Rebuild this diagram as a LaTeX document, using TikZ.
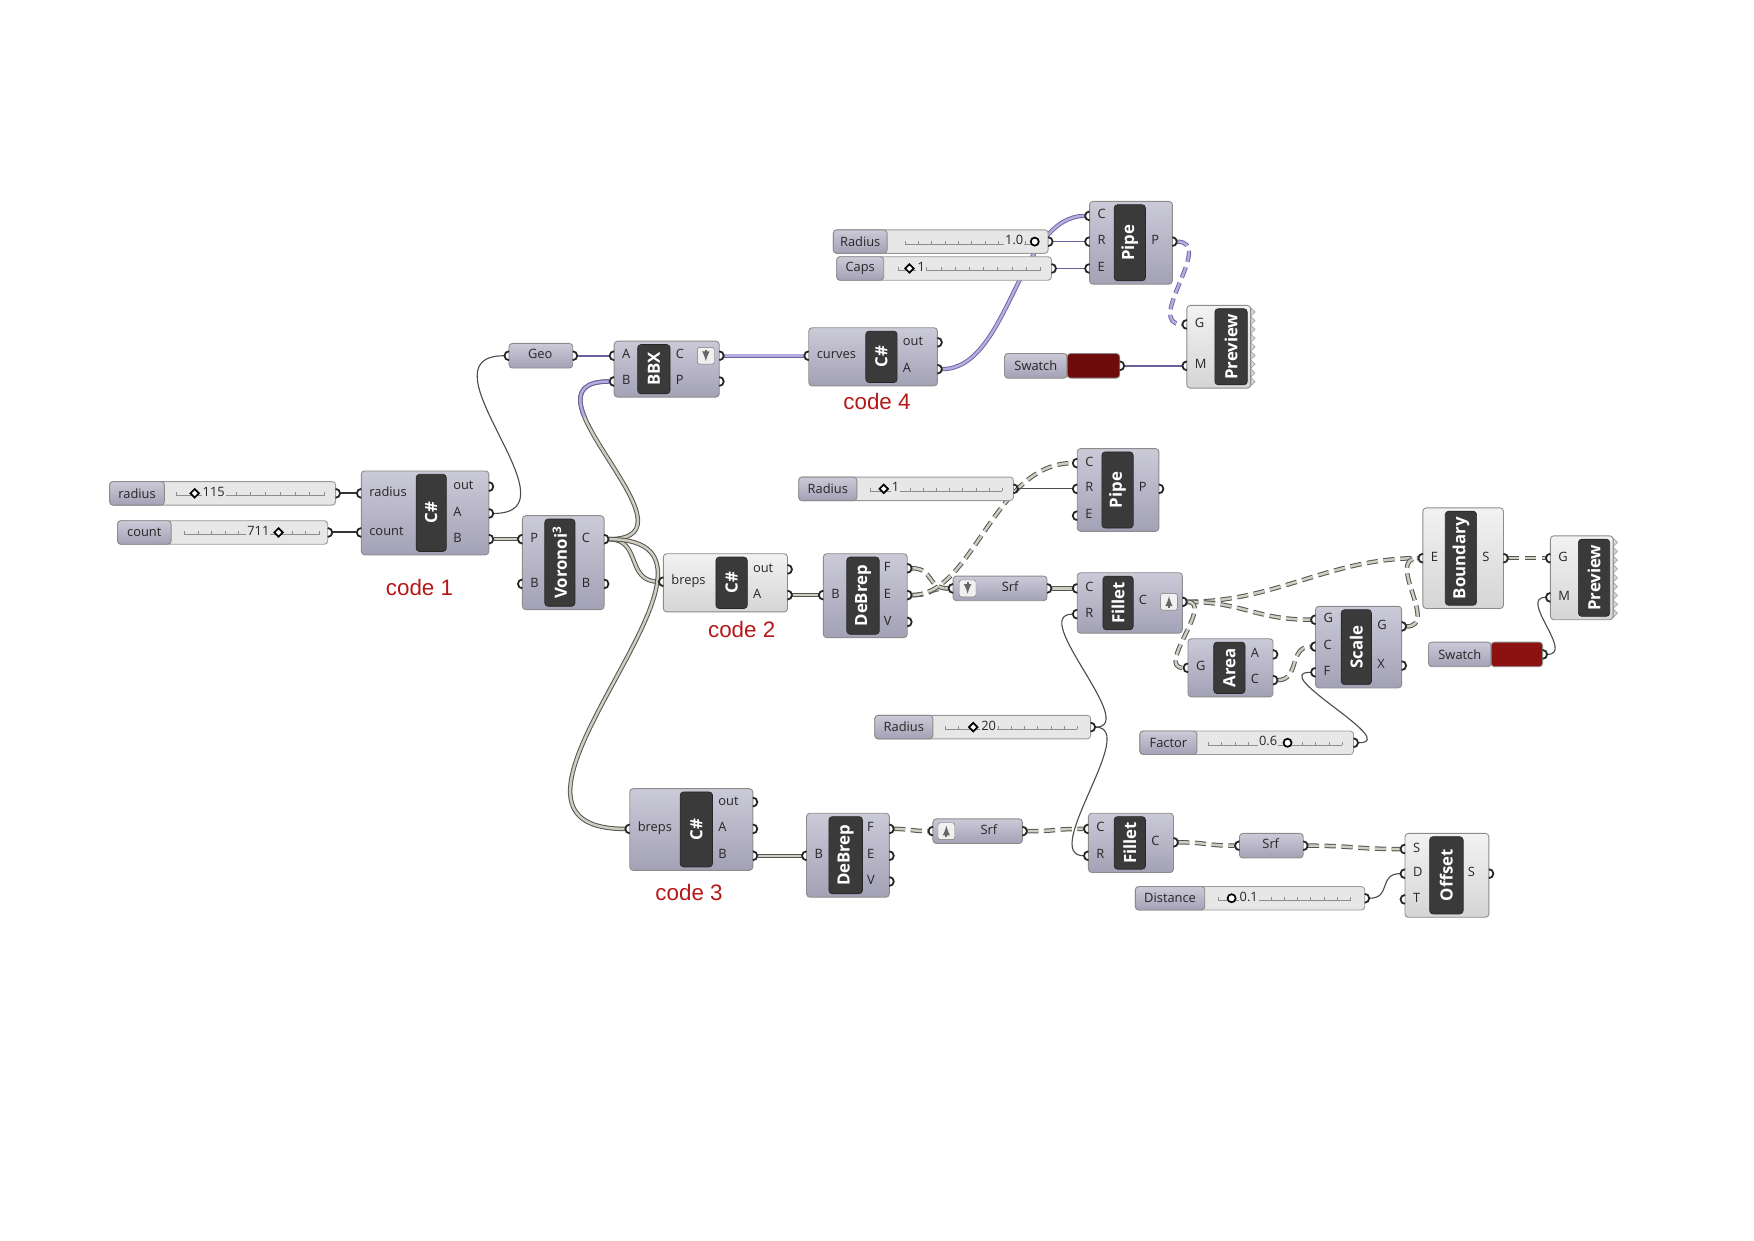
\documentclass[tikz,border=0pt]{standalone}
\usepackage{fontspec}
\setmainfont{Open Sans}
\newfontfamily\notefont{Liberation Sans}
\usepackage{xcolor}
\usepackage{tikz}
\usetikzlibrary{arrows}

\pgfdeclarelayer{wires}
\pgfsetlayers{wires,main}

\definecolor{compTop}{HTML}{CBCAD8}
\definecolor{compBot}{HTML}{A3A1B5}
\definecolor{liteTop}{HTML}{F2F2F2}
\definecolor{liteBot}{HTML}{D5D5D5}
\definecolor{tabGray}{HTML}{3A3A3A}
\definecolor{slideBody}{HTML}{E7E7E7}
\definecolor{wireIn}{HTML}{D0CEC2}
\definecolor{wireOut}{HTML}{55554F}
\definecolor{purpIn}{HTML}{B7ACDF}
\definecolor{purpOut}{HTML}{6C5FA0}
\definecolor{noteRed}{HTML}{B51818}
\definecolor{swatchDark}{HTML}{6E0C0C}
\definecolor{swatchRed}{HTML}{8C1212}

\tikzset{
  comp/.style={draw=black!45, line width=0.8pt, rounded corners=3pt, top color=compTop, bottom color=compBot, inner sep=0, outer sep=0},
  compL/.style={comp, top color=liteTop, bottom color=liteBot},
  tab/.style={draw=black!85, fill=tabGray, line width=0.6pt, rounded corners=3pt, inner sep=0},
  ttl/.style={font=\bfseries\fontsize{15}{16}\selectfont, text=white, rotate=90, inner sep=0},
  plab/.style={font=\fontsize{11.5}{12}\selectfont, text=black!85, inner sep=0, text height=8, text depth=2.5},
  slidelab/.style={comp, font=\fontsize{11.5}{12}\selectfont, text=black!85},
  slidebody/.style={draw=black!40, line width=0.8pt, fill=slideBody, rounded corners=3pt, inner sep=0},
  swbox/.style={draw=black!45, line width=0.8pt, rounded corners=3pt, inner sep=0},
  sval/.style={plab, fill=slideBody, inner sep=1pt},
  track/.style={draw=black!45, line width=0.5pt},
  knob/.style={draw=black, fill=white, line width=1.5pt},
  port/.style={draw=black!85, line width=1.6pt},
  icon/.style={draw=black!55, fill=black!6, rounded corners=2pt, minimum size=15, inner sep=0},
  iconarr/.style={-latex, draw=black!60, line width=2pt},
  zig/.style={draw=black!35, fill=liteBot, line width=0.6pt},
  note/.style={font=\notefont\fontsize{20}{22}\selectfont, text=noteRed, inner sep=0},
  wire/.style={draw=black!70, line width=1pt},
  wireT/.style={draw=black!80, line width=1.8pt},
  lwire/.style={draw=wireOut, line width=0.9pt, double=wireIn, double distance=2.2pt},
  twire/.style={lwire, dash pattern=on 10pt off 5pt},
  pwire/.style={draw=purpOut, line width=1.4pt},
  plwire/.style={draw=purpOut, line width=0.8pt, double=purpIn, double distance=2.2pt},
  ptwire/.style={plwire, dash pattern=on 10pt off 5pt}
}

% component body, dark title tab and rotated title
\newcommand{\ghcomp}[9]{%
  \node[#9, minimum width={#4-#2}, minimum height={#5-#3}] (#1) at ({(#2+#4)/2},{(#3+#5)/2}) {};
  \node[tab, minimum width={#7-#6}, minimum height={#5-#3-6}] (#1-tab) at ({(#6+#7)/2},{(#3+#5)/2}) {};
  \node[ttl] at (#1-tab) {#8};}
% input and output grips
\newcommand{\ghin}[4]{%
  \coordinate (#3) at ({#1-4.2},#2);
  \draw[port] (#1,{#2-4}) arc[start angle=270,end angle=90,radius=4];
  \node[plab, anchor=west] at ({#1+7},#2) {#4};}
\newcommand{\ghout}[5]{%
  \coordinate (#3) at ({#1+4.2},#2);
  \draw[port] (#1,{#2-4}) arc[start angle=-90,end angle=90,radius=4];
  \node[plab, anchor=west] at (#4,#2) {#5};}
% number slider
\newcommand{\ghslider}[6]{%
  \node[slidebody, minimum width={#4-#2}, minimum height=21] (#1) at ({(#2+#4)/2},#5) {};
  \node[slidelab, minimum width={#3-#2}, minimum height=21] (#1-lab) at ({(#2+#3)/2},#5) {#6};
  \coordinate (#1-o) at ({#4+4.2},#5);
  \draw[port] (#4,{#5-4}) arc[start angle=-90,end angle=90,radius=4];}
\newcommand{\ghtrack}[3]{%
  \draw[track] (#1,{#3+2}) -- (#2,{#3+2});
  \foreach \k in {0,...,10} \draw[track] ({#1+\k*(#2-#1)/10},{#3+2}) -- ++(0,-3);}
\newcommand{\ghdia}[2]{\draw[knob] (#1,#2) ++(-3.8,0) -- ++(3.8,-3.8) -- ++(3.8,3.8) -- ++(-3.8,3.8) -- cycle;}
\newcommand{\ghcirc}[2]{\draw[knob] (#1,#2) circle (3.6);}
% parameter with one grip on each side
\newcommand{\ghparam}[6]{%
  \node[comp, minimum width={#3-#2}, minimum height=22] (#1) at ({(#2+#3)/2},#4) {};
  \node[plab] at (#6,#4) {#5};
  \coordinate (#1-i) at ({#2-4.2},#4);
  \coordinate (#1-o) at ({#3+4.2},#4);
  \draw[port] (#2,{#4-4}) arc[start angle=270,end angle=90,radius=4];
  \draw[port] (#3,{#4-4}) arc[start angle=-90,end angle=90,radius=4];}
\newcommand{\ghicon}[3]{%
  \node[icon] at (#1,#2) {};
  \draw[iconarr] (#1,{#2-5.5*#3}) -- (#1,{#2+5*#3});}
\newcommand{\ghzig}[3]{%
  \filldraw[zig] (#1,#2) \foreach \k in {1,...,9} {-- ++(4,{(#3-#2)/18}) -- ++(-4,{(#3-#2)/18})} -- cycle;}
\newcommand{\ghswatch}[6]{%
  \node[slidelab, minimum width={#3-#2}, minimum height=22] (#1) at ({(#2+#3)/2},#5) {Swatch};
  \node[swbox, fill=#6, minimum width={#4-#3}, minimum height=22] (#1-col) at ({(#3+#4)/2},#5) {};
  \coordinate (#1-o) at ({#4+4.2},#5);
  \draw[port] (#4,{#5-4}) arc[start angle=-90,end angle=90,radius=4];}

\begin{document}
\begin{tikzpicture}[x=1pt,y=-1pt]
\useasboundingbox (0,0) rectangle (1568,1109);

% sliders
\ghslider{sRadius}{98}{147}{300}{441}{radius}
\ghtrack{158}{290}{441}
\node[sval, anchor=west] at (180,441) {115};
\ghdia{174}{441}
\ghslider{sCount}{105}{153}{293}{476}{count}
\ghtrack{165}{285}{476}
\node[sval, anchor=east] at (242,476) {711};
\ghdia{249}{476}
\ghslider{sRadTop}{745}{793}{937}{216}{Radius}
\ghtrack{809}{928}{216}
\node[sval, anchor=east] at (916,216) {1.0};
\ghcirc{925}{216}
\ghslider{sCaps}{748}{790}{940}{240}{Caps}
\ghtrack{803}{930}{240}
\node[sval, anchor=west] at (819,240) {1};
\ghdia{813}{240}
\ghslider{sRadMid}{714}{766}{906}{437}{Radius}
\ghtrack{778}{896}{437}
\node[sval, anchor=west] at (796,437) {1};
\ghdia{790}{437}
\ghslider{sRadLow}{782}{834}{975}{650}{Radius}
\ghtrack{845}{963}{650}
\node[sval, anchor=west] at (876,650) {20};
\ghdia{870}{650}
\ghslider{sFactor}{1019}{1070}{1210}{664}{Factor}
\ghtrack{1080}{1200}{664}
\node[sval, anchor=east] at (1143,664) {0.6};
\ghcirc{1151}{664}
\ghslider{sDist}{1015}{1077}{1220}{803}{Distance}
\ghtrack{1089}{1207}{803}
\node[sval, anchor=west] at (1107,803) {0.1};
\ghcirc{1101}{803}

% code 1 and voronoi
\ghcomp{c1}{323}{421}{437}{496}{372}{399}{C\#}{comp}
\ghin{323}{441}{c1-radius}{radius}
\ghin{323}{476}{c1-count}{count}
\ghout{437}{435}{c1-out}{405}{out}
\ghout{437}{459}{c1-A}{405}{A}
\ghout{437}{482}{c1-B}{405}{B}
\node[note] at (375,525) {code 1};
\ghcomp{vor}{467}{461}{540}{545}{487}{514}{Voronoi\textsuperscript{3}}{comp}
\ghin{467}{482}{vor-P}{P}
\ghin{467}{522}{vor-B}{B}
\ghout{540}{482}{vor-C}{520}{C}
\ghout{540}{522}{vor-Bo}{520}{B}

% top row
\ghparam{geo}{455}{512}{318}{Geo}{483}
\ghcomp{bbx}{549}{305}{643}{355}{570}{599}{BBX}{comp}
\ghin{549}{318}{bbx-A}{A}
\ghin{549}{341}{bbx-B}{B}
\ghout{643}{318}{bbx-C}{604}{C}
\ghout{643}{341}{bbx-P}{604}{P}
\ghicon{631}{318}{1}
\ghcomp{c4}{723}{293}{838}{345}{774}{802}{C\#}{comp}
\ghin{723}{318}{c4-curves}{curves}
\ghout{838}{306}{c4-out}{807}{out}
\ghout{838}{330}{c4-A}{807}{A}
\node[note] at (784,359) {code 4};
\ghcomp{pipeT}{974}{180}{1048}{254}{996}{1024}{Pipe}{comp}
\ghin{974}{193}{pipeT-C}{C}
\ghin{974}{216}{pipeT-R}{R}
\ghin{974}{240}{pipeT-E}{E}
\ghout{1048}{216}{pipeT-P}{1029}{P}
\ghzig{1118}{275}{345}
\ghcomp{prevT}{1061}{273}{1118}{347}{1086}{1115}{Preview}{compL}
\ghin{1061}{290}{prevT-G}{G}
\ghin{1061}{327}{prevT-M}{M}
\ghswatch{swT}{898}{954}{1001}{327}{swatchDark}

% middle row
\ghcomp{pipeM}{963}{401}{1036}{475}{985}{1013}{Pipe}{comp}
\ghin{963}{414}{pipeM-C}{C}
\ghin{963}{437}{pipeM-R}{R}
\ghin{963}{461}{pipeM-E}{E}
\ghout{1036}{437}{pipeM-P}{1018}{P}
\ghcomp{c2}{593}{495}{704}{547}{640}{668}{C\#}{compL}
\ghin{593}{520}{c2-breps}{breps}
\ghout{704}{509}{c2-out}{673}{out}
\ghout{704}{532}{c2-A}{673}{A}
\node[note] at (663,563) {code 2};
\ghcomp{debM}{736}{495}{811}{570}{757}{786}{DeBrep}{comp}
\ghin{736}{532}{debM-B}{B}
\ghout{811}{508}{debM-F}{790}{F}
\ghout{811}{532}{debM-E}{790}{E}
\ghout{811}{556}{debM-V}{790}{V}
\ghparam{srfM}{852}{936}{526}{Srf}{903}
\ghicon{865}{526}{1}
\ghcomp{filM}{963}{512}{1057}{566}{986}{1013}{Fillet}{comp}
\ghin{963}{526}{filM-C}{C}
\ghin{963}{549}{filM-R}{R}
\ghout{1057}{538}{filM-Co}{1018}{C}
\ghicon{1045}{538}{-1}
\ghcomp{area}{1062}{571}{1138}{623}{1085}{1113}{Area}{comp}
\ghin{1062}{597}{area-G}{G}
\ghout{1138}{585}{area-A}{1118}{A}
\ghout{1138}{608}{area-C}{1118}{C}
\ghcomp{scale}{1176}{542}{1253}{615}{1199}{1226}{Scale}{comp}
\ghin{1176}{554}{scale-G}{G}
\ghin{1176}{578}{scale-C}{C}
\ghin{1176}{601}{scale-F}{F}
\ghout{1253}{560}{scale-Go}{1231}{G}
\ghout{1253}{595}{scale-X}{1231}{X}
\ghcomp{bnd}{1272}{454}{1344}{544}{1292}{1320}{Boundary}{compL}
\ghin{1272}{499}{bnd-E}{E}
\ghout{1344}{499}{bnd-S}{1325}{S}
\ghzig{1442}{481}{552}
\ghcomp{prevR}{1386}{479}{1442}{554}{1411}{1439}{Preview}{compL}
\ghin{1386}{499}{prevR-G}{G}
\ghin{1386}{534}{prevR-M}{M}
\ghswatch{swR}{1277}{1333}{1379}{585}{swatchRed}

% bottom row
\ghcomp{c3}{563}{705}{673}{778}{608}{637}{C\#}{comp}
\ghin{563}{741}{c3-breps}{breps}
\ghout{673}{717}{c3-out}{642}{out}
\ghout{673}{741}{c3-A}{642}{A}
\ghout{673}{765}{c3-B}{642}{B}
\node[note] at (616,798) {code 3};
\ghcomp{debL}{721}{727}{795}{802}{741}{771}{DeBrep}{comp}
\ghin{721}{765}{debL-B}{B}
\ghout{795}{741}{debL-F}{775}{F}
\ghout{795}{765}{debL-E}{775}{E}
\ghout{795}{788}{debL-V}{775}{V}
\ghparam{srfA}{834}{914}{743}{Srf}{884}
\ghicon{846}{743}{-1}
\ghcomp{filL}{973}{727}{1049}{780}{996}{1024}{Fillet}{comp}
\ghin{973}{741}{filL-C}{C}
\ghin{973}{765}{filL-R}{R}
\ghout{1049}{753}{filL-Co}{1029}{C}
\ghparam{srfB}{1108}{1165}{756}{Srf}{1136}
\ghcomp{off}{1256}{745}{1331}{820}{1278}{1308}{Offset}{compL}
\ghin{1256}{759}{off-S}{S}
\ghin{1256}{781}{off-D}{D}
\ghin{1256}{804}{off-T}{T}
\ghout{1331}{781}{off-So}{1312}{S}

% wires, behind the components
\begin{pgfonlayer}{wires}
\draw[wireT] (sRadius-o) -- (c1-radius);
\draw[wireT] (sCount-o) -- (c1-count);
\draw[wire] (c1-A) .. controls +(80,0) and +(-80,0) .. (geo-i);
\draw[lwire] (c1-B) -- (vor-P);
\draw[lwire] (vor-C) .. controls +(90,0) and +(-90,0) .. (bbx-B);
\begin{scope}
  \clip (480,300) rectangle (560,372);
  \draw[plwire] (vor-C) .. controls +(90,0) and +(-90,0) .. (bbx-B);
\end{scope}
\draw[lwire] (vor-C) .. controls +(30,0) and +(-30,0) .. (c2-breps);
\draw[lwire] (vor-C) .. controls +(150,0) and +(-160,0) .. (c3-breps);
\draw[pwire] (geo-o) -- (bbx-A);
\draw[plwire] (bbx-C) -- (c4-curves);
\draw[plwire] (c4-A) .. controls +(60,0) and +(-60,0) .. (pipeT-C);
\draw[pwire] (sRadTop-o) -- (pipeT-R);
\draw[pwire] (sCaps-o) -- (pipeT-E);
\draw[ptwire] (pipeT-P) .. controls +(35,0) and +(-35,0) .. (prevT-G);
\draw[pwire] (swT-o) -- (prevT-M);
\draw[lwire] (c2-A) -- (debM-B);
\draw[twire] (debM-F) .. controls +(20,0) and +(-20,0) .. (srfM-i);
\draw[twire] (debM-E) .. controls +(20,0) and +(-20,0) .. (srfM-i);
\draw[twire] (debM-E) .. controls +(55,0) and +(-70,0) .. (pipeM-C);
\draw[wire] (sRadMid-o) -- (pipeM-R);
\draw[lwire] (srfM-o) -- (filM-C);
\draw[twire] (filM-Co) .. controls +(80,0) and +(-80,0) .. (bnd-E);
\draw[twire] (filM-Co) .. controls +(50,0) and +(-50,0) .. (scale-G);
\draw[twire] (filM-Co) .. controls +(25,0) and +(-25,0) .. (area-G);
\draw[twire] (area-C) .. controls +(20,0) and +(-20,0) .. (scale-C);
\draw[twire] (scale-Go) .. controls +(30,0) and +(-30,0) .. (bnd-E);
\draw[twire] (bnd-S) -- (prevR-G);
\draw[wire] (swR-o) .. controls +(25,0) and +(-25,0) .. (prevR-M);
\draw[wire] (sFactor-o) .. controls +(40,0) and +(-40,0) .. (scale-F);
\draw[wire] (sRadLow-o) .. controls +(40,0) and +(-40,0) .. (filM-R);
\draw[wire] (sRadLow-o) .. controls +(40,0) and +(-40,0) .. (filL-R);
\draw[lwire] (c3-B) -- (debL-B);
\draw[twire] (debL-F) .. controls +(15,0) and +(-15,0) .. (srfA-i);
\draw[twire] (srfA-o) .. controls +(30,0) and +(-30,0) .. (filL-C);
\draw[twire] (filL-Co) .. controls +(25,0) and +(-25,0) .. (srfB-i);
\draw[twire] (srfB-o) .. controls +(40,0) and +(-40,0) .. (off-S);
\draw[wire] (sDist-o) .. controls +(20,0) and +(-20,0) .. (off-D);
\end{pgfonlayer}
\end{tikzpicture}
\end{document}
